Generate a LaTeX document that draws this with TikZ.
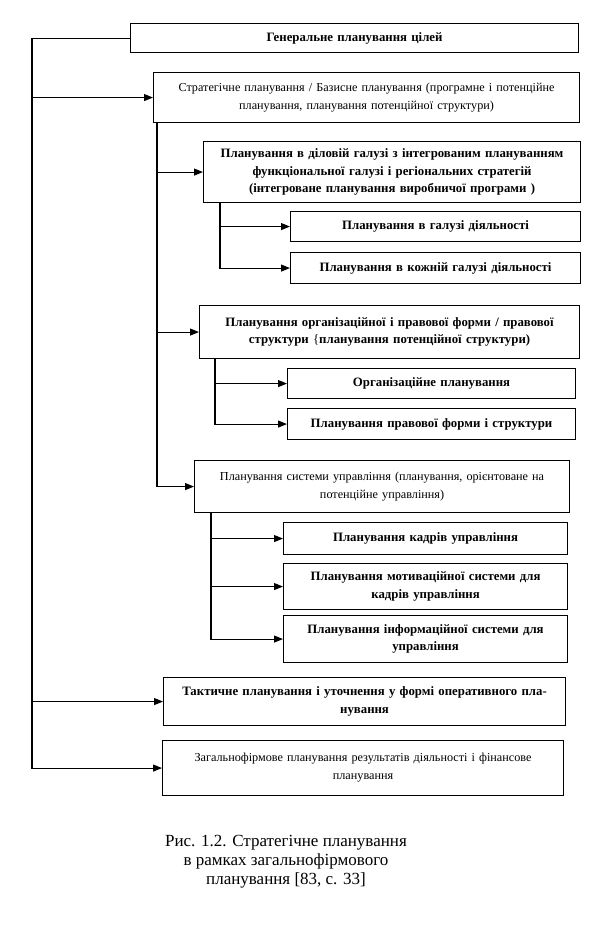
\documentclass[tikz,border=0pt]{standalone}
\usepackage{fontspec}
\setmainfont{Liberation Serif}
\usetikzlibrary{arrows.meta}
\tikzset{
  box/.style={draw, line width=1.1pt, anchor=north west, inner sep=2pt, align=center, fill=white},
  bb/.style={box, font=\rmfamily\bfseries\fontsize{12.8}{17.5}\selectfont},
  rb/.style={box, font=\rmfamily\fontsize{12.2}{18}\selectfont},
  conn/.style={line width=1.1pt},
  arr/.style={conn, -{Triangle[length=9pt,width=7pt]}},
}
\begin{document}
\begin{tikzpicture}[x=1pt,y=-1pt]
\useasboundingbox[fill=white] (0,0) rectangle (600,927);
% boxes
\node[bb, minimum width=448pt, minimum height=29pt, text width=444pt] (b1) at (130,23) {Генеральне планування цілей};
\node[rb, minimum width=426pt, minimum height=50pt, text width=422pt] (b2) at (153,72) {Стратегічне планування / Базисне планування (програмне і потенційне\\планування, планування потенційної структури)};
\node[bb, minimum width=377pt, minimum height=61pt, text width=373pt] (b3) at (203,141) {Планування в діловій галузі з інтегрованим плануванням\\функціональної галузі і регіональних стратегій\\(інтегроване планування виробничої програми )};
\node[bb, minimum width=290pt, minimum height=30pt, text width=286pt] (b3a) at (290,211) {Планування в галузі діяльності};
\node[bb, minimum width=290pt, minimum height=31pt, text width=286pt] (b3b) at (290,252) {Планування в кожній галузі діяльності};
\node[bb, minimum width=380pt, minimum height=53pt, text width=376pt] (b4) at (199,305) {Планування організаційної і правової форми / правової\\структури {\mdseries\{}планування потенційної структури)};
\node[bb, minimum width=288pt, minimum height=30pt, text width=284pt] (b4a) at (287,368) {Організаційне планування};
\node[bb, minimum width=288pt, minimum height=31pt, text width=284pt] (b4b) at (287,408) {Планування правової форми і структури};
\node[rb, minimum width=375pt, minimum height=52pt, text width=371pt] (b5) at (194,460) {Планування системи управління (планування, орієнтоване на\\потенційне управління)};
\node[bb, minimum width=284pt, minimum height=32pt, text width=280pt] (b5a) at (283,522) {Планування кадрів управління};
\node[bb, minimum width=284pt, minimum height=46pt, text width=280pt] (b5b) at (283,563) {Планування мотиваційної системи для\\кадрів управління};
\node[bb, minimum width=284pt, minimum height=47pt, text width=280pt] (b5c) at (283,615) {Планування інформаційної системи для\\управління};
\node[bb, minimum width=402pt, minimum height=48pt, text width=398pt] (b6) at (163,677) {Тактичне планування і уточнення у формі оперативного пла-\\нування};
\node[rb, minimum width=401pt, minimum height=55pt, text width=397pt] (b7) at (162,740) {Загальнофірмове планування результатів діяльності і фінансове\\планування};
% caption
\node[align=center, font=\rmfamily\fontsize{17}{19}\selectfont] (cap) at (286,862) {Рис. 1.2. Стратегічне планування\\в рамках загальнофірмового\\планування [83, с. 33]};
% trunk coordinates
\coordinate (t1) at (32,0);
\coordinate (t2) at (157,0);
\coordinate (t3) at (220,0);
\coordinate (t4) at (215,0);
\coordinate (t5) at (211,0);
% main trunk
\draw[arr] (b1.west) -| (t1 |- b7.west) -- (b7.west);
\draw[arr] (t1 |- b2.west) -- (b2.west);
\draw[arr] (t1 |- b6.west) -- (b6.west);
% strategic trunk
\draw[arr] (t2 |- b2.south) |- (b5.west);
\draw[arr] (t2 |- b3.west) -- (b3.west);
\draw[arr] (t2 |- b4.west) -- (b4.west);
% sub trunks
\draw[arr] (t3 |- b3.south) |- (b3b.west);
\draw[arr] (t3 |- b3a.west) -- (b3a.west);
\draw[arr] (t4 |- b4.south) |- (b4b.west);
\draw[arr] (t4 |- b4a.west) -- (b4a.west);
\draw[arr] (t5 |- b5.south) |- (b5c.west);
\draw[arr] (t5 |- b5a.west) -- (b5a.west);
\draw[arr] (t5 |- b5b.west) -- (b5b.west);
\end{tikzpicture}
\end{document}
